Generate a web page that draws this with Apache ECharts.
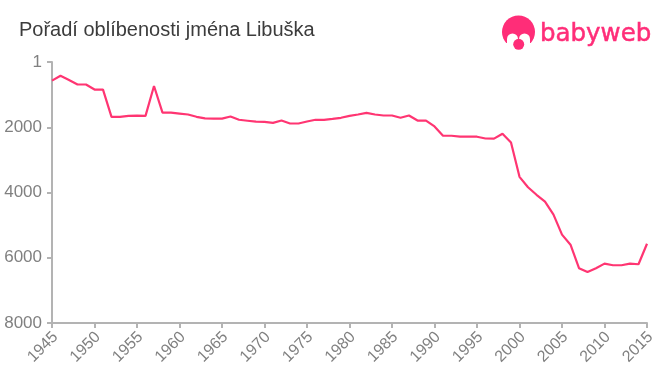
<!DOCTYPE html>
<html>
<head>
<meta charset="utf-8">
<style>html,body{margin:0;padding:0;background:#fff}#c{width:660px;height:375px}</style>
<script src="https://cdn.jsdelivr.net/npm/echarts@6/dist/echarts.min.js"></script>
</head>
<body>
<div id="c"></div>
<script>
const titleText = 'Pořadí oblíbenosti jména Libuška';
const brandText = 'babyweb';
const years = [1945,1946,1947,1948,1949,1950,1951,1952,1953,1954,1955,1956,1957,1958,1959,1960,1961,1962,1963,1964,1965,1966,1967,1968,1969,1970,1971,1972,1973,1974,1975,1976,1977,1978,1979,1980,1981,1982,1983,1984,1985,1986,1987,1988,1989,1990,1991,1992,1993,1994,1995,1996,1997,1998,1999,2000,2001,2002,2003,2004,2005,2006,2007,2008,2009,2010,2011,2012,2013,2014,2015];
const ranks = [570,420,550,690,690,845,845,1680,1680,1650,1645,1650,735,1550,1550,1580,1610,1680,1730,1735,1735,1670,1770,1800,1830,1835,1865,1795,1885,1885,1825,1770,1775,1745,1710,1650,1610,1560,1610,1640,1640,1710,1640,1795,1795,1975,2260,2260,2290,2290,2290,2345,2350,2200,2465,3520,3840,4070,4280,4680,5290,5600,6320,6440,6320,6180,6230,6230,6180,6200,5570];
const yTopLabel = '1';
const pink = '#ff3572';
const logoPink = '#ff2d78';
const axisGrey = '#b3b3b3';
const labelGrey = '#808080';
const pts = years.map((y,i)=>[y,ranks[i]]);
const chart = echarts.init(document.getElementById('c'),null,{renderer:'canvas'});
chart.setOption({
  animation:false,
  backgroundColor:'#fff',
  textStyle:{fontFamily:'Liberation Sans'},
  title:{text:titleText,left:19,top:20,padding:0,textStyle:{fontFamily:'Liberation Sans',fontSize:20,fontWeight:'normal',color:'#3c3c3c'}},
  grid:{left:52,right:13,top:62,bottom:52,containLabel:false},
  xAxis:{type:'value',min:1945,max:2015,interval:5,
    axisLine:{show:true,onZero:false,lineStyle:{color:axisGrey,width:2}},
    axisTick:{show:true,length:5,lineStyle:{color:axisGrey,width:2}},
    splitLine:{show:false},
    axisLabel:{rotate:45,fontSize:16,color:labelGrey,margin:8,verticalAlign:'top',lineHeight:10,formatter:v=>String(v),showMinLabel:true,showMaxLabel:true,hideOverlap:false}},
  yAxis:{type:'value',inverse:true,min:0,max:8000,interval:2000,
    axisLine:{show:true,lineStyle:{color:axisGrey,width:2}},
    axisTick:{show:true,length:5,lineStyle:{color:axisGrey,width:2}},
    splitLine:{show:false},
    axisLabel:{fontSize:17,color:labelGrey,margin:10,padding:[5,0,0,0],formatter:v=>v===0?yTopLabel:String(v)}},
  series:[{type:'line',data:pts,symbol:'none',smooth:false,clip:false,lineStyle:{color:pink,width:2.2}}],
  graphic:[
    {type:'circle',shape:{cx:518.5,cy:32,r:16.5},style:{fill:logoPink},silent:true},
    {type:'rect',shape:{x:500,y:43,width:38,height:8},style:{fill:'#fff'},silent:true},
    {type:'circle',shape:{cx:512.5,cy:39,r:5.5},style:{fill:'#fff'},silent:true},
    {type:'circle',shape:{cx:524.5,cy:39,r:5.5},style:{fill:'#fff'},silent:true},
    {type:'rect',shape:{x:507,y:39,width:23,height:6},style:{fill:'#fff'},silent:true},
    {type:'circle',shape:{cx:518.7,cy:44.3,r:5.5},style:{fill:logoPink},silent:true},
    {type:'text',x:540,y:35,style:{text:brandText,fontFamily:'DejaVu Sans',fontSize:24.5,verticalAlign:'middle',fill:logoPink,stroke:logoPink,lineWidth:0.5},silent:true}
  ]
});
</script>
</body>
</html>
